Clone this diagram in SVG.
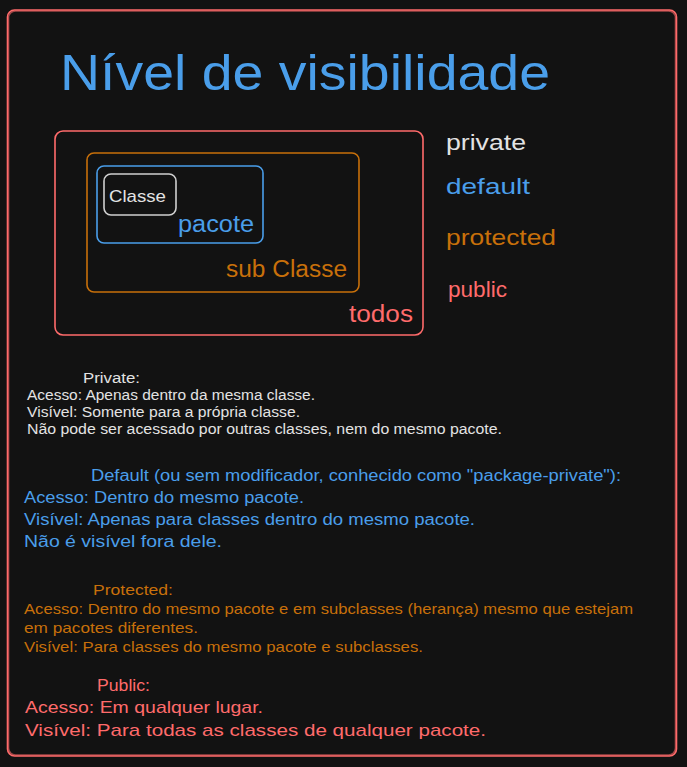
<svg xmlns="http://www.w3.org/2000/svg" width="687" height="767" viewBox="0 0 687 767">
<style>
text{font-family:"Liberation Sans","Open Sans",sans-serif;}
.red{fill:#ff6b6b}.blue{fill:#4a9eea}.orange{fill:#c8700a}.white{fill:#e3e3e3}
.box{fill:none;stroke-width:1.6;stroke-linejoin:round}
</style>
<rect x="0" y="0" width="687" height="767" fill="#121212"/>
<g id="frame">
<rect class="box" x="7.5" y="10" width="669" height="746" rx="7" stroke="#ff6b6b"/>
<rect class="box" x="8.5" y="11" width="667" height="744" rx="7" stroke="#ff6b6b" stroke-width="0.8" opacity="0.6"/>
</g>
<g id="title">
<text class="blue" x="60" y="90" font-size="50" textLength="490" lengthAdjust="spacingAndGlyphs">Nível de visibilidade</text>
</g>
<g id="todos">
<rect class="box" x="55" y="131" width="368" height="204" rx="8" stroke="#ff6b6b"/>
<text class="red" x="349" y="322" font-size="23" textLength="64" lengthAdjust="spacingAndGlyphs">todos</text>
</g>
<g id="subclasse">
<rect class="box" x="87" y="153" width="272" height="139" rx="7" stroke="#c8700a"/>
<text class="orange" x="226" y="277" font-size="23" textLength="121" lengthAdjust="spacingAndGlyphs">sub Classe</text>
</g>
<g id="pacote">
<rect class="box" x="97" y="166" width="166" height="77" rx="7" stroke="#4a9eea"/>
<text class="blue" x="178" y="232" font-size="23" textLength="76" lengthAdjust="spacingAndGlyphs">pacote</text>
</g>
<g id="classe">
<rect class="box" x="104" y="174" width="72" height="41" rx="7" stroke="#d0d0d0"/>
<text class="white" x="109" y="202" font-size="17" textLength="57" lengthAdjust="spacingAndGlyphs">Classe</text>
</g>
<g id="legend">
<text class="white" x="446" y="150" font-size="22" textLength="80" lengthAdjust="spacingAndGlyphs">private</text>
<text class="blue" x="446" y="194" font-size="22" textLength="84" lengthAdjust="spacingAndGlyphs">default</text>
<text class="orange" x="446" y="245" font-size="22" textLength="110" lengthAdjust="spacingAndGlyphs">protected</text>
<text class="red" x="448" y="297" font-size="22" textLength="59" lengthAdjust="spacingAndGlyphs">public</text>
</g>
<g id="private-text" font-size="14">
<text class="white" x="83" y="383" textLength="57" lengthAdjust="spacingAndGlyphs">Private:</text>
<text class="white" x="27" y="400" textLength="288" lengthAdjust="spacingAndGlyphs">Acesso: Apenas dentro da mesma classe.</text>
<text class="white" x="27" y="417" textLength="273" lengthAdjust="spacingAndGlyphs">Visível: Somente para a própria classe.</text>
<text class="white" x="27" y="434" textLength="475" lengthAdjust="spacingAndGlyphs">Não pode ser acessado por outras classes, nem do mesmo pacote.</text>
</g>
<g id="default-text" font-size="16">
<text class="blue" x="91" y="481" textLength="530" lengthAdjust="spacingAndGlyphs">Default (ou sem modificador, conhecido como "package-private"):</text>
<text class="blue" x="24" y="503" textLength="280" lengthAdjust="spacingAndGlyphs">Acesso: Dentro do mesmo pacote.</text>
<text class="blue" x="24" y="525" textLength="451" lengthAdjust="spacingAndGlyphs">Visível: Apenas para classes dentro do mesmo pacote.</text>
<text class="blue" x="24" y="547" textLength="198" lengthAdjust="spacingAndGlyphs">Não é visível fora dele.</text>
</g>
<g id="protected-text" font-size="15">
<text class="orange" x="93" y="595" textLength="80" lengthAdjust="spacingAndGlyphs">Protected:</text>
<text class="orange" x="24" y="614" textLength="609" lengthAdjust="spacingAndGlyphs">Acesso: Dentro do mesmo pacote e em subclasses (herança) mesmo que estejam</text>
<text class="orange" x="24" y="633" textLength="174" lengthAdjust="spacingAndGlyphs">em pacotes diferentes.</text>
<text class="orange" x="24" y="652" textLength="399" lengthAdjust="spacingAndGlyphs">Visível: Para classes do mesmo pacote e subclasses.</text>
</g>
<g id="public-text" font-size="17">
<text class="red" x="97" y="691" textLength="53" lengthAdjust="spacingAndGlyphs">Public:</text>
<text class="red" x="25" y="713" textLength="238" lengthAdjust="spacingAndGlyphs">Acesso: Em qualquer lugar.</text>
<text class="red" x="25" y="736" textLength="461" lengthAdjust="spacingAndGlyphs">Visível: Para todas as classes de qualquer pacote.</text>
</g>
</svg>
